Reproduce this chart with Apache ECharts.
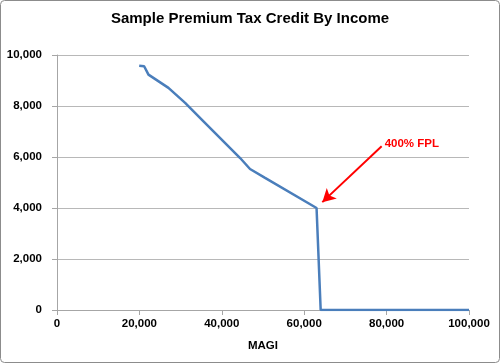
<!DOCTYPE html>
<html><head><meta charset="utf-8">
<script src="https://cdn.jsdelivr.net/npm/echarts@6/dist/echarts.min.js"></script>
<style>html,body{margin:0;padding:0;background:#fff}#c{width:500px;height:363px}</style>
</head><body><div id="c"></div>
<script>
const magi = [19950, 21150, 22200, 27050, 31100, 35550, 44450, 46850, 50500, 63000, 64000, 100000];
const credit = [9580, 9560, 9230, 8710, 8120, 7400, 5960, 5530, 5180, 4000, 0, 0];
const xTicks = [0, 20000, 40000, 60000, 80000, 100000];
const yTicks = [0, 2000, 4000, 6000, 8000, 10000];
const arrowFrom = [78800, 6420];
const arrowTo = [64400, 4230];
const annotationText = '400% FPL';

const chart = echarts.init(document.getElementById('c'));
const fmt = v => v.toLocaleString('en-US');
const font = 'Liberation Sans';
chart.setOption({
  animation: false,
  title: { text: 'Sample Premium Tax Credit By Income', left: 'center', top: 6,
    textStyle: { fontFamily: font, fontWeight: 'bold', fontSize: 15, color: '#000' } },
  grid: { left: 57, right: 31, top: 55, bottom: 53 },
  xAxis: { type: 'value', min: xTicks[0], max: xTicks[xTicks.length-1], interval: 20000,
    name: 'MAGI', nameLocation: 'middle', nameGap: 30,
    nameTextStyle: { fontFamily: font, fontWeight: 'bold', fontSize: 11.5, color: '#000' },
    axisLine: { show: true, lineStyle: { color: '#a6a6a6' } },
    axisTick: { show: true, length: 5, lineStyle: { color: '#a6a6a6' } },
    splitLine: { show: false },
    axisLabel: { formatter: fmt, margin: 8, fontFamily: font, fontWeight: 'bold', fontSize: 11.5, color: '#000' } },
  yAxis: { type: 'value', min: yTicks[0], max: yTicks[yTicks.length-1], interval: 2000,
    axisLine: { show: true, lineStyle: { color: '#a6a6a6' } },
    axisTick: { show: true, length: 5, lineStyle: { color: '#a6a6a6' } },
    splitLine: { show: true, lineStyle: { color: '#b8b8b8' } },
    axisLabel: { formatter: fmt, margin: 15, fontFamily: font, fontWeight: 'bold', fontSize: 11.5, color: '#000' } },
  series: [{
    type: 'line', data: magi.map((x, i) => [x, credit[i]]), symbol: 'none',
    lineStyle: { color: '#4a7ebb', width: 2.5 },
    markLine: {
      silent: true, symbol: ['none', 'arrow'], symbolSize: [11, 13],
      lineStyle: { color: '#ff0000', width: 2, type: 'solid' },
      label: { show: false },
      data: [[{ coord: arrowFrom }, { coord: arrowTo }]]
    },
    markPoint: {
      silent: true, symbol: 'circle', symbolSize: 0,
      label: { show: true, position: 'right', distance: 3, offset: [0, -2], formatter: annotationText,
        fontFamily: font, fontWeight: 'bold', fontSize: 11.5, color: '#ff0000' },
      data: [{ coord: arrowFrom }]
    }
  }],
  graphic: [{ type: 'rect', shape: { x: 0.5, y: 0.5, width: 499, height: 362, r: 4 },
    style: { fill: 'none', stroke: '#8c8c8c', lineWidth: 1 }, silent: true }]
});
</script></body></html>
